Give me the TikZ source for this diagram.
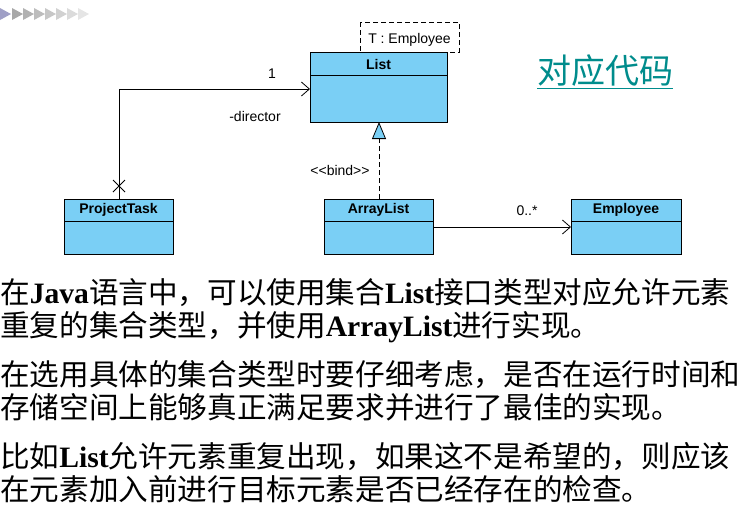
\documentclass[tikz,border=0pt]{standalone}
\usepackage{fontspec}
\setmainfont{Liberation Serif}
\setsansfont{Liberation Sans}
\newfontfamily\cjk{Noto Sans CJK SC}
\usetikzlibrary{arrows.meta,positioning}
\definecolor{umlblue}{RGB}{122,207,245}
\definecolor{linkteal}{RGB}{0,140,140}
\newcommand{\lat}[1]{{\rmfamily\bfseries #1}}
\newcommand{\cls}[5]{% node name, class name, left, top, right
  \draw[fill=umlblue,thick] (#3,-#4) rectangle (#5,-#4-55);
  \draw[thick] (#3,-#4-22) -- (#5,-#4-22);
  \node[font=\sffamily\bfseries\fontsize{14}{16}\selectfont] (#1) at ({(#3+#5)/2},-#4-11) {#2};}
\begin{document}
\begin{tikzpicture}[x=1pt,y=1pt,
    lbl/.style={font=\sffamily\fontsize{14}{16}\selectfont},
    body/.style={anchor=base west,inner sep=0pt,font=\cjk\fontsize{29.6}{32}\selectfont}]
  \useasboundingbox (0,0) rectangle (751,-507);
  % arrows at top left
  \fill[blue!25!gray!60] (0,-8) -- (11,-14) -- (0,-20) -- cycle;
  \foreach \i in {1,...,7}
    \fill[black!\the\numexpr 38-4*\i\relax] (1+11*\i,-8) -- (12+11*\i,-14) -- (1+11*\i,-20) -- cycle;
  % classes
  \draw[fill=umlblue,thick] (310,-52) rectangle (447,-122);
  \draw[thick] (310,-75) -- (447,-75);
  \node[font=\sffamily\bfseries\fontsize{14}{16}\selectfont] (list) at (378.5,-64) {List};
  \coordinate (listL) at (310,-89);
  \coordinate (listB) at (379,-122);
  \draw[dash pattern=on 5pt off 3pt,thick,fill=white] (360,-22) rectangle (459,-52);
  \node[lbl] (tparam) at (409.5,-40) {T :\ Employee};
  \cls{ptask}{ProjectTask}{64}{199}{173}
  \cls{alist}{ArrayList}{324}{199}{433}
  \cls{emp}{Employee}{571}{199}{681}
  \coordinate (ptTop) at (119,-199);
  \coordinate (alTop) at (379,-199);
  \coordinate (alR) at (433,-227);
  \coordinate (empL) at (571,-227);
  % connectors
  \draw[thick,-{Straight Barb[length=8pt,width=14pt]}] (ptTop) |- (listL);
  \draw[thick] (113,-180) -- (125,-192) (113,-192) -- (125,-180);
  \draw[thick,dash pattern=on 5pt off 3pt,-{Triangle[open,fill=umlblue,length=17pt,width=14pt]}] (alTop) -- (listB);
  \draw[thick,-{Straight Barb[length=8pt,width=14pt]}] (alR) -- (empL);
  \node[lbl] (one) at (272,-74) {1};
  \node[lbl] (role) at (255,-116) {-director};
  \node[lbl] (bind) at (340,-170) {{<}{<}bind{>}{>}};
  \node[lbl] (mult) at (527,-211) {0..*};
  \node[font=\cjk\fontsize{34}{36}\selectfont,text=linkteal] (code) at (605,-72) {\underline{对应代码}};
  % body text
  \node[body] (l1) at (0,-303) {在\lat{Java}语言中，可以使用集合\lat{List}接口类型对应允许元素};
  \node[body] (l2) at (0,-336) {重复的集合类型，并使用\lat{ArrayList}进行实现。};
  \node[body] (l3) at (0,-385) {在选用具体的集合类型时要仔细考虑，是否在运行时间和};
  \node[body] (l4) at (0,-418) {存储空间上能够真正满足要求并进行了最佳的实现。};
  \node[body] (l5) at (0,-467) {比如\lat{List}允许元素重复出现，如果这不是希望的，则应该};
  \node[body] (l6) at (0,-500) {在元素加入前进行目标元素是否已经存在的检查。};
\end{tikzpicture}
\end{document}
